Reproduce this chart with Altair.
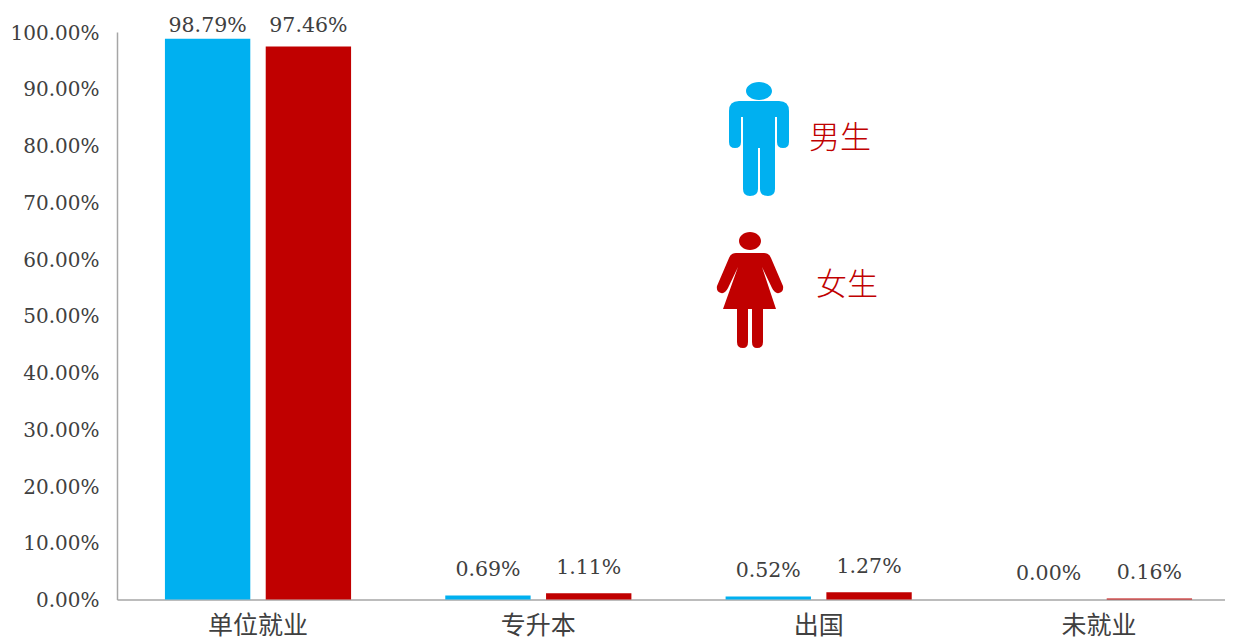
import altair as alt
import pandas as pd

categories = ["单位就业", "专升本", "出国", "未就业"]
male = [98.79, 0.69, 0.52, 0.00]
female = [97.46, 1.11, 1.27, 0.16]
y_ticks = [0, 10, 20, 30, 40, 50, 60, 70, 80, 90, 100]
series = ["男生", "女生"]
colors = ["#00B0F0", "#C00000"]
num_font = "DejaVu Serif"
cjk_font = "Noto Sans CJK SC"
ink = "#404040"

MALE_PATH = ("M-13,-48 a13,9 0 1,1 26,0 a13,9 0 1,1 -26,0 Z "
             "M-20,-38 L20,-38 Q30,-38 30,-28 L30,3 Q30,9 24,9 Q18,9 18,3 L18,-22 L16,-22 "
             "L16,50 Q16,57 9,57 Q1,57 1,50 L1,9 L-1,9 L-1,50 Q-1,57 -9,57 Q-16,57 -16,50 "
             "L-16,-22 L-18,-22 L-18,3 Q-18,9 -24,9 Q-30,9 -30,3 L-30,-28 Q-30,-38 -20,-38 Z")
FEMALE_PATH = ("M-11,-49 a11,9 0 1,1 22,0 a11,9 0 1,1 -22,0 Z "
               "M-14,-37 L14,-37 Q19,-37 21,-32 L33,-4 Q34,2 29,3 Q25,4 22,-2 L12,-23 L26,19 "
               "L13,19 L13,52 Q13,58 7,58 Q2,58 2,52 L2,19 L-2,19 L-2,52 Q-2,58 -7,58 Q-13,58 -13,52 "
               "L-13,19 L-27,19 L-12,-23 L-22,-2 Q-25,4 -29,3 Q-34,2 -33,-4 L-21,-32 Q-19,-37 -14,-37 Z")

rows = []
for c, m, f in zip(categories, male, female):
    rows.append({"cat": c, "sex": series[0], "v": m, "label": f"{m:.2f}%"})
    rows.append({"cat": c, "sex": series[1], "v": f, "label": f"{f:.2f}%"})
df = pd.DataFrame(rows)

x = alt.X("cat:N", sort=categories, title=None,
          scale=alt.Scale(domain=categories, range=[0, 1123], paddingInner=0.336, paddingOuter=0.171),
          axis=alt.Axis(labelAngle=0, ticks=False, domainColor="#A6A6A6", domainWidth=1.5,
                        labelFont=cjk_font, labelFontSize=25, labelColor=ink, labelPadding=14, grid=False))
y = alt.Y("v:Q", title=None, scale=alt.Scale(domain=[0, 100], nice=False),
          axis=alt.Axis(values=y_ticks, labelExpr="format(datum.value,'.2f')+'%'", ticks=False,
                        domainColor="#A6A6A6", domainWidth=1.5, grid=False, labelFont=num_font,
                        labelFontSize=20, labelColor=ink, labelPadding=18, labelOffset=1))
xo = alt.XOffset("sex:N", sort=series, scale=alt.Scale(domain=series, paddingInner=0.153, paddingOuter=0))
color = alt.Color("sex:N", scale=alt.Scale(domain=series, range=colors), legend=None)

bars = alt.Chart(df).mark_bar().encode(x=x, xOffset=xo, y=y, color=color)


def labels(expr, dy):
    return (alt.Chart(df).transform_filter(expr)
            .mark_text(font=num_font, fontSize=20.5, color=ink, baseline="bottom", dy=dy)
            .encode(x=x, xOffset=xo, y=y, text="label:N"))


big_male = labels("datum.v > 98", -3)
big_female = labels("datum.v > 50 && datum.v < 98", -10)
small = labels("datum.v <= 50", -15.5)

icon_df = pd.DataFrame({"k": [1]})


def icon(path, col, px, py):
    return alt.Chart(icon_df).mark_point(shape=path, filled=True, size=4, color=col, opacity=1, strokeWidth=0).encode(
        x=alt.value(px), y=alt.value(py))


def tag(text, px, py):
    return alt.Chart(icon_df).mark_text(text=text, font=cjk_font, fontSize=31, color="#C00000",
                                        fontWeight=300).encode(x=alt.value(px), y=alt.value(py))


chart = alt.layer(
    bars, big_male, big_female, small,
    icon(MALE_PATH, colors[0], 642, 107), icon(FEMALE_PATH, colors[1], 633, 258),
    tag("男生", 723, 107), tag("女生", 730, 254),
).properties(
    width=1108, height=567.5,
    autosize=alt.AutoSizeParams(type="none"),
    padding={"left": 109, "top": 24, "right": 0, "bottom": 41.5},
).configure_view(stroke=None)

chart.save("out.html", embed_options={"renderer": "svg", "actions": False})
